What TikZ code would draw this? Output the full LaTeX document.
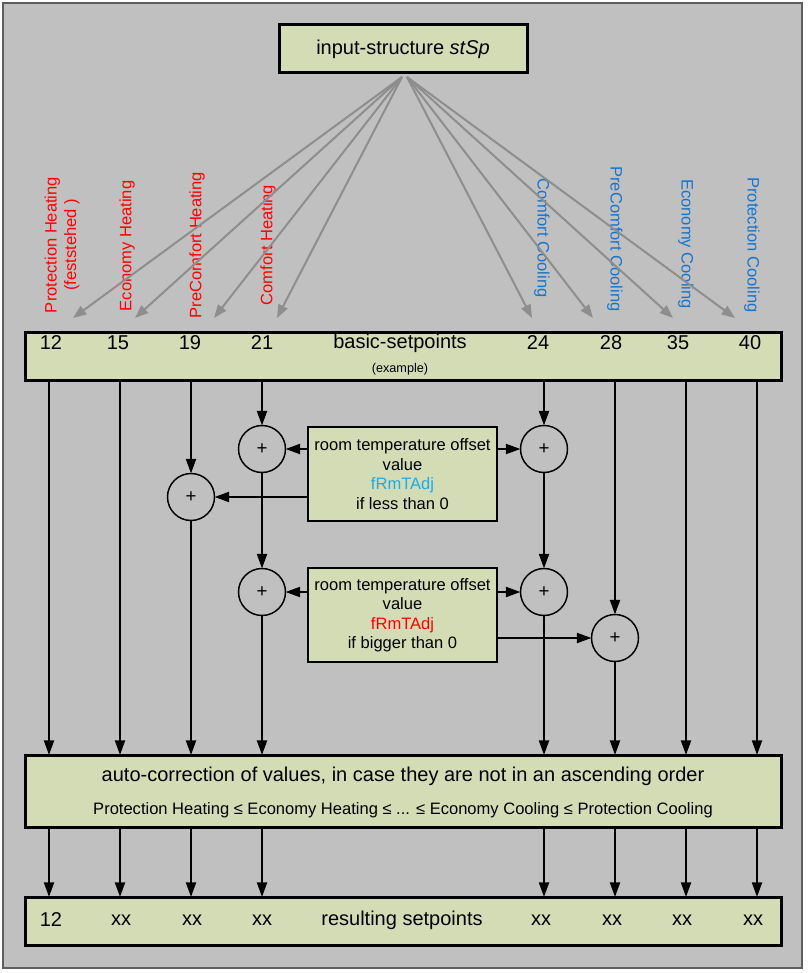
\documentclass[tikz,border=0pt]{standalone}
\usepackage{fontspec}
\setmainfont{Liberation Sans}
\usetikzlibrary{arrows.meta}
\definecolor{bgcol}{HTML}{C0C0C0}
\definecolor{boxfill}{HTML}{D4DCB6}
\definecolor{framecol}{HTML}{5E5E5E}
\definecolor{garrow}{HTML}{8E8E8E}
\definecolor{heatcol}{HTML}{FF0000}
\definecolor{coolcol}{HTML}{1874CD}
\definecolor{adjblue}{HTML}{1EAAE6}
\begin{document}
\begin{tikzpicture}[x=0.75pt,y=-0.75pt,
  bigfont/.style={font=\fontsize{15}{18}\selectfont},
  midfont/.style={font=\fontsize{12.4}{14.6}\selectfont},
  box/.style={draw=black, fill=boxfill, line width=2.25pt, inner sep=0pt, outer sep=0pt},
  obox/.style={draw=black, fill=boxfill, line width=1.5pt, inner sep=0pt, outer sep=0pt, align=center, midfont},
  sumnode/.style={circle, draw=black, line width=1.1pt, minimum size=35.25pt, inner sep=0pt, outer sep=0pt, font=\fontsize{14}{16}\selectfont},
  flow/.style={draw=black, line width=1.6pt, -{Triangle[length=11pt,width=7.5pt]}},
  feed/.style={draw=garrow, line width=1.5pt, -{Triangle[length=10pt,width=7.5pt]}},
  heatlbl/.style={text=heatcol, rotate=90, align=center, midfont, inner sep=0pt},
  coollbl/.style={text=coolcol, rotate=-90, align=center, midfont, inner sep=0pt},
  txt/.style={inner sep=0pt, bigfont}
]
\useasboundingbox (0,0) rectangle (808,973);
% outer frame
\path[fill=white] (0,0) rectangle (808,973);
\path[fill=bgcol, draw=framecol, line width=1.5pt] (3,3) rectangle (802,968);

% column coordinates
\coordinate (k1) at (49,0);
\coordinate (k2) at (120,0);
\coordinate (k3) at (191,0);
\coordinate (k4) at (262,0);
\coordinate (k5) at (544,0);
\coordinate (k6) at (615,0);
\coordinate (k7) at (686,0);
\coordinate (k8) at (757,0);

% top box
\node[box, minimum width=186pt, minimum height=36pt, bigfont] (top) at (403,49) {input-structure \textit{stSp}};
\coordinate (srcL) at (402,77);
\coordinate (srcR) at (407,77);

% rotated labels
\node[heatlbl] (lPH) at (62,245) {Protection Heating\\(feststehed )};
\node[heatlbl] (lEH) at (127,246) {Economy Heating};
\node[heatlbl] (lPCH) at (197,245) {PreComfort Heating};
\node[heatlbl] (lCH) at (268,245) {Comfort Heating};
\node[coollbl] (lCC) at (542,238) {Comfort Cooling};
\node[coollbl] (lPCC) at (615,239) {PreComfort Cooling};
\node[coollbl] (lEC) at (686,244) {Economy Cooling};
\node[coollbl] (lPC) at (752,245) {Protection Cooling};

% tips of the feed arrows
\coordinate (t1) at (73,318);
\coordinate (t2) at (135,318);
\coordinate (t3) at (214,318);
\coordinate (t4) at (277,318);
\coordinate (t5) at (532,318);
\coordinate (t6) at (593,318);
\coordinate (t7) at (673,318);
\coordinate (t8) at (735,318);
\foreach \t in {t1,t2,t3,t4} \draw[feed] (srcL) -- (\t);
\foreach \t in {t5,t6,t7,t8} \draw[feed] (srcR) -- (\t);

% basic setpoints box
\node[box, minimum width=567pt, minimum height=36pt] (basic) at (403,356) {};
\node[txt] (b1) at (51,343) {12};
\node[txt] (b2) at (118,343) {15};
\node[txt] (b3) at (190,343) {19};
\node[txt] (b4) at (262,343) {21};
\node[txt] (bt) at (400,343) {basic-setpoints};
\node[inner sep=0pt, font=\fontsize{9.5}{11}\selectfont] (bex) at (400,369) {(example)};
\node[txt] (b5) at (538,343) {24};
\node[txt] (b6) at (611,343) {28};
\node[txt] (b7) at (678,343) {35};
\node[txt] (b8) at (750,343) {40};

% offset boxes
\node[obox, minimum width=141.75pt, minimum height=70.5pt] (off1) at (402.5,474)
  {room temperature offset\\value\\\textcolor{adjblue}{fRmTAdj}\\if less than 0};
\node[obox, minimum width=141.75pt, minimum height=70.5pt] (off2) at (402.5,615)
  {room temperature offset\\value\\\textcolor{heatcol}{fRmTAdj}\\if bigger than 0};

% summing circles
\node[sumnode] (s21a) at (262,449) {+};
\node[sumnode] (s19) at (191,497) {+};
\node[sumnode] (s21b) at (262,592) {+};
\node[sumnode] (s24a) at (544,449) {+};
\node[sumnode] (s24b) at (544,592) {+};
\node[sumnode] (s28) at (615,638) {+};

% auto-correction box
\node[box, minimum width=567pt, minimum height=54pt] (auto) at (403,791) {};
\node[txt] (at1) at (403,776) {auto-correction of values, in case they are not in an ascending order};
\node[inner sep=0pt, midfont] (at2) at (403,810) {Protection Heating ≤ Economy Heating ≤ ... ≤ Economy Cooling ≤ Protection Cooling};

% result box
\node[box, minimum width=567pt, minimum height=36pt] (res) at (403,921) {};
\node[txt] (r1) at (51,920) {12};
\node[txt] (r2) at (121,920) {xx};
\node[txt] (r3) at (192,920) {xx};
\node[txt] (r4) at (262,920) {xx};
\node[txt] (rt) at (402,920) {resulting setpoints};
\node[txt] (r5) at (541,920) {xx};
\node[txt] (r6) at (612,920) {xx};
\node[txt] (r7) at (682,920) {xx};
\node[txt] (r8) at (753,920) {xx};

% straight columns
\foreach \k in {k1,k2,k7,k8} \draw[flow] (basic.south -| \k) -- (auto.north -| \k);
% into circles
\draw[flow] (basic.south -| k3) -- (s19.north);
\draw[flow] (basic.south -| k4) -- (s21a.north);
\draw[flow] (basic.south -| k5) -- (s24a.north);
\draw[flow] (basic.south -| k6) -- (s28.north);
\draw[flow] (s21a.south) -- (s21b.north);
\draw[flow] (s24a.south) -- (s24b.north);
\draw[flow] (s19.south) -- (auto.north -| k3);
\draw[flow] (s21b.south) -- (auto.north -| k4);
\draw[flow] (s24b.south) -- (auto.north -| k5);
\draw[flow] (s28.south) -- (auto.north -| k6);
% offsets
\draw[flow] (off1.west |- s21a) -- (s21a.east);
\draw[flow] (off1.east |- s24a) -- (s24a.west);
\draw[flow] (off1.west |- s19) -- (s19.east);
\draw[flow] (off2.west |- s21b) -- (s21b.east);
\draw[flow] (off2.east |- s24b) -- (s24b.west);
\draw[flow] (off2.east |- s28) -- (s28.west);
% to results
\foreach \k in {k1,k2,k3,k4,k5,k6,k7,k8} \draw[flow] (auto.south -| \k) -- (res.north -| \k);
\end{tikzpicture}
\end{document}
